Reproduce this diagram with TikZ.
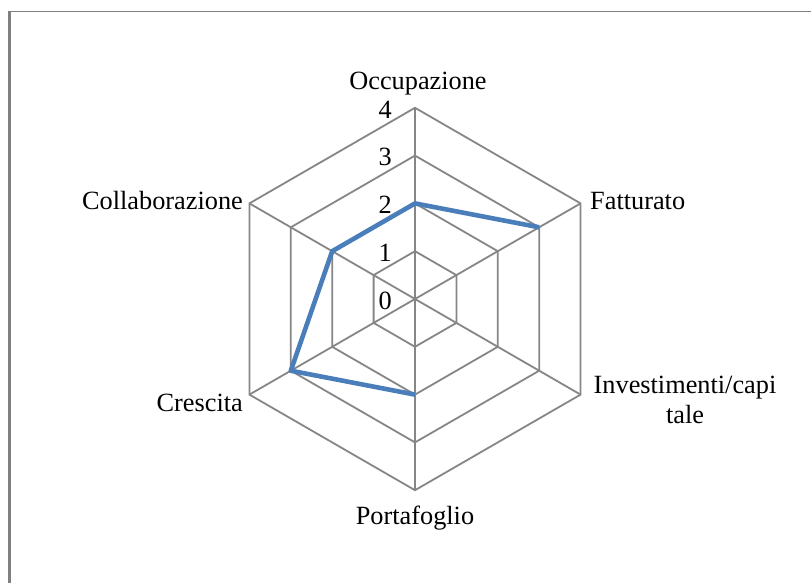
\documentclass[tikz,border=0pt]{standalone}
\usepackage{fontspec}
\setmainfont{Liberation Serif}
\usetikzlibrary{calc}
\definecolor{gridgray}{RGB}{134,134,134}
\definecolor{serblue}{RGB}{74,126,187}
\definecolor{framegray}{RGB}{128,128,128}
\begin{document}
\begin{tikzpicture}[x=1pt,y=-1pt,
  grid/.style={draw=gridgray,line width=1.8pt,line join=miter},
  series/.style={draw=serblue,line width=4.6pt,line join=round},
  lbl/.style={font=\fontsize{26.3}{30.5}\selectfont,inner sep=0pt},
  tick/.style={font=\fontsize{26.3}{30}\selectfont,inner sep=0pt,anchor=east}]
\useasboundingbox (0,0) rectangle (811,583);
\fill[white] (0,0) rectangle (811,583);
\draw[framegray,line width=1.5pt] (9.5,11.5) -- (820,11.5);
\draw[framegray,line width=2.4pt] (9.5,600) -- (9.5,10.75);
\coordinate (c) at (415,299);
\def\R{47.8}
% rings
\foreach \k in {1,2,3,4}{
  \draw[grid] ($(c)+(-90:{\k*\R})$) -- ($(c)+(-30:{\k*\R})$) -- ($(c)+(30:{\k*\R})$)
    -- ($(c)+(90:{\k*\R})$) -- ($(c)+(150:{\k*\R})$) -- ($(c)+(210:{\k*\R})$) -- cycle;
}
% axis ends
\coordinate (aO) at ($(c)+(-90:{4*\R})$);
\coordinate (aF) at ($(c)+(-30:{4*\R})$);
\coordinate (aI) at ($(c)+(30:{4*\R})$);
\coordinate (aP) at ($(c)+(90:{4*\R})$);
\coordinate (aCr) at ($(c)+(150:{4*\R})$);
\coordinate (aCo) at ($(c)+(210:{4*\R})$);
\foreach \a in {aO,aF,aI,aP,aCr,aCo}{\draw[grid] (c) -- (\a);}
% tick labels
\node[tick] (t0) at (392,301) {0};
\node[tick] (t1) at (392,253) {1};
\node[tick] (t2) at (392,205) {2};
\node[tick] (t3) at (392,157) {3};
\node[tick] (t4) at (392,110) {4};
% data
\coordinate (dO) at ($(c)+(-90:{2*\R})$);
\coordinate (dF) at ($(c)+(-30:{3*\R})$);
\coordinate (dP) at ($(c)+(90:{2*\R})$);
\coordinate (dCr) at ($(c)+(150:{3*\R})$);
\coordinate (dCo) at ($(c)+(210:{2*\R})$);
\draw[series] (dP) -- (dCr) -- (dCo) -- (dO) -- (dF);
% category labels
\node[lbl] (lO) at (418,84) {Occupazione};
\node[lbl,anchor=west] (lF) at (590,201) {Fatturato};
\node[lbl,align=center] (lI) at (685,400) {Investimenti/capi\\tale};
\node[lbl] (lP) at (415,518) {Portafoglio};
\node[lbl,anchor=east] (lCr) at (243,403) {Crescita};
\node[lbl,anchor=east] (lCo) at (243,201) {Collaborazione};
\end{tikzpicture}
\end{document}
